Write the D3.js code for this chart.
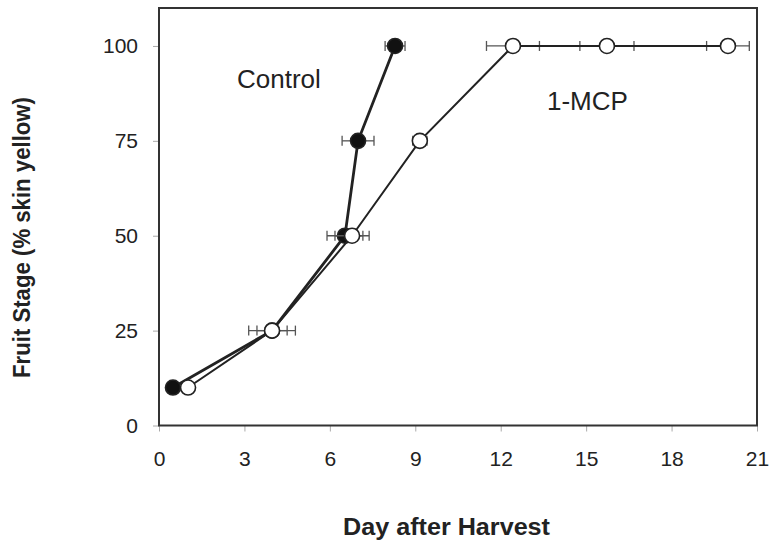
<!DOCTYPE html>
<html>
<head>
<meta charset="utf-8">
<script src="https://cdn.jsdelivr.net/npm/d3@7"></script>
<style>
  body { margin: 0; background: #fff; }
  svg text { font-family: "Liberation Sans", Arial, sans-serif; fill: #222; }
</style>
</head>
<body>
<div id="chart"></div>
<script>
// Control (filled circles)
const controlDay = [0.49, 3.97, 6.53, 6.99, 8.29]
const controlStage = [10, 25, 50, 75, 100]
const controlErr = [0, 0.53, 0.63, 0.56, 0.35]

// 1-MCP (open circles)
const mcpDay = [1.02, 3.97, 6.78, 9.16, 12.43, 15.73, 19.98]
const mcpStage = [10, 25, 50, 75, 100, 100, 100]
const mcpErr = [0, 0.82, 0.6, 0.25, 0.93, 0.95, 0.75]

const xTicks = [0, 3, 6, 9, 12, 15, 18, 21]
const yTicks = [0, 25, 50, 75, 100]

const WIDTH = 776
const HEIGHT = 543
const margin = { left: 159, right: 19, top: 8, bottom: 117.5 }

const svg = d3.select('#chart')
    .append('svg')
    .attr('width', WIDTH)
    .attr('height', HEIGHT)

const x = d3.scaleLinear().domain([0, 21]).range([margin.left, WIDTH - margin.right])
const y = d3.scaleLinear().domain([0, 110]).range([HEIGHT - margin.bottom, margin.top])

// Axes
const xAxis = svg.append('g')
    .attr('transform', `translate(0,${y(0)})`)
    .call(d3.axisBottom(x).tickValues(xTicks).tickSize(6).tickPadding(20))
const yAxis = svg.append('g')
    .attr('transform', `translate(${x(0)},0)`)
    .call(d3.axisLeft(y).tickValues(yTicks).tickSize(6).tickPadding(15))

for (const g of [xAxis, yAxis]) {
    g.select('.domain').remove()
    g.selectAll('.tick line').attr('stroke', '#aaa')
    g.selectAll('.tick text')
        .attr('font-size', 21)
        .style('font-family', '"Liberation Sans", Arial, sans-serif')
        .attr('fill', '#222')
}

// Frame
svg.append('rect')
    .attr('x', x(0))
    .attr('y', y(110))
    .attr('width', x(21) - x(0))
    .attr('height', y(0) - y(110))
    .attr('fill', 'none')
    .attr('stroke', '#333')
    .attr('stroke-width', 2)

// Axis titles
svg.append('text')
    .attr('x', 343)
    .attr('y', 535)
    .attr('font-size', 23)
    .attr('font-weight', 'bold')
    .attr('textLength', 207)
    .attr('lengthAdjust', 'spacingAndGlyphs')
    .text('Day after Harvest')

svg.append('text')
    .attr('transform', 'translate(30,378) rotate(-90)')
    .attr('font-size', 23)
    .attr('font-weight', 'bold')
    .attr('textLength', 281)
    .attr('lengthAdjust', 'spacingAndGlyphs')
    .text('Fruit Stage (% skin yellow)')

function drawSeries(days, stages, errs, opts) {
    const pts = days.map((d, i) => ({ day: d, stage: stages[i], err: errs[i] }))
    const g = svg.append('g')

    // Error bars
    const eb = g.selectAll('.err')
        .data(pts.filter(p => p.err > 0))
        .enter()
        .append('g')
        .attr('stroke', '#555')
        .attr('stroke-width', 1.3)
    eb.append('line')
        .attr('x1', p => x(p.day - p.err))
        .attr('x2', p => x(p.day + p.err))
        .attr('y1', p => y(p.stage))
        .attr('y2', p => y(p.stage))
    for (const s of [-1, 1]) {
        eb.append('line')
            .attr('x1', p => x(p.day + s * p.err))
            .attr('x2', p => x(p.day + s * p.err))
            .attr('y1', p => y(p.stage) - 5)
            .attr('y2', p => y(p.stage) + 5)
    }

    g.append('path')
        .datum(pts)
        .attr('d', d3.line().x(p => x(p.day)).y(p => y(p.stage)))
        .attr('fill', 'none')
        .attr('stroke', '#222')
        .attr('stroke-width', opts.lineWidth)

    g.selectAll('circle')
        .data(pts)
        .enter()
        .append('circle')
        .attr('cx', p => x(p.day))
        .attr('cy', p => y(p.stage))
        .attr('r', 7.5)
        .attr('fill', opts.fill)
        .attr('stroke', '#222')
        .attr('stroke-width', 1.6)
}

// control first so the open circles sit on top
drawSeries(controlDay, controlStage, controlErr, { fill: '#111', lineWidth: 2.8 })
drawSeries(mcpDay, mcpStage, mcpErr, { fill: '#fff', lineWidth: 2 })

// Series labels
svg.append('text')
    .attr('x', 237)
    .attr('y', 88)
    .attr('font-size', 26)
    .text('Control')

svg.append('text')
    .attr('x', 547)
    .attr('y', 110)
    .attr('font-size', 26)
    .text('1-MCP')
</script>
</body>
</html>
